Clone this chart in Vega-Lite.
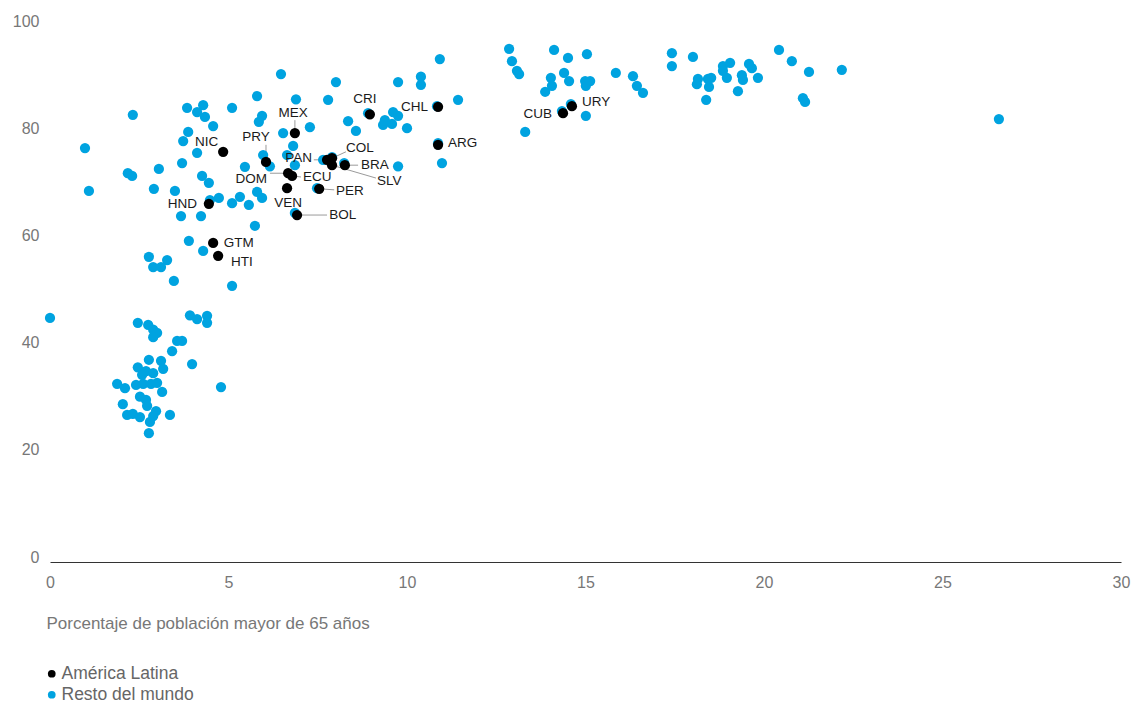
{
"$schema": "https://vega.github.io/schema/vega-lite/v6.json",
"width": 1071, "height": 536,
"autosize": {"type": "none"},
"padding": {"left": 50, "top": 21, "right": 11, "bottom": 146},
"config": {"view": {"stroke": null}, "font": "Liberation Sans"},
"datasets": {
"puntos": [
{"x":0.0,"y":44.6,"grupo":"Resto del mundo"},{"x":0.98,"y":76.3,"grupo":"Resto del mundo"},{"x":1.09,"y":68.3,"grupo":"Resto del mundo"},{"x":2.32,"y":82.5,"grupo":"Resto del mundo"},
{"x":6.47,"y":90.1,"grupo":"Resto del mundo"},{"x":5.80,"y":86.0,"grupo":"Resto del mundo"},{"x":6.89,"y":85.4,"grupo":"Resto del mundo"},{"x":3.84,"y":83.8,"grupo":"Resto del mundo"},
{"x":4.29,"y":84.3,"grupo":"Resto del mundo"},{"x":4.12,"y":83.0,"grupo":"Resto del mundo"},{"x":4.34,"y":82.1,"grupo":"Resto del mundo"},{"x":4.57,"y":80.4,"grupo":"Resto del mundo"},
{"x":5.10,"y":83.8,"grupo":"Resto del mundo"},{"x":5.94,"y":82.3,"grupo":"Resto del mundo"},{"x":5.85,"y":81.2,"grupo":"Resto del mundo"},{"x":6.53,"y":79.1,"grupo":"Resto del mundo"},
{"x":6.81,"y":76.7,"grupo":"Resto del mundo"},{"x":6.64,"y":75.0,"grupo":"Resto del mundo"},{"x":6.86,"y":73.1,"grupo":"Resto del mundo"},{"x":3.87,"y":79.3,"grupo":"Resto del mundo"},
{"x":3.73,"y":77.6,"grupo":"Resto del mundo"},{"x":4.12,"y":75.4,"grupo":"Resto del mundo"},{"x":3.70,"y":73.5,"grupo":"Resto del mundo"},{"x":3.05,"y":72.4,"grupo":"Resto del mundo"},
{"x":2.18,"y":71.6,"grupo":"Resto del mundo"},{"x":2.30,"y":71.1,"grupo":"Resto del mundo"},{"x":2.91,"y":68.7,"grupo":"Resto del mundo"},{"x":3.50,"y":68.3,"grupo":"Resto del mundo"},
{"x":4.26,"y":71.1,"grupo":"Resto del mundo"},{"x":4.45,"y":69.8,"grupo":"Resto del mundo"},{"x":5.46,"y":72.8,"grupo":"Resto del mundo"},{"x":5.97,"y":75.0,"grupo":"Resto del mundo"},
{"x":6.16,"y":72.9,"grupo":"Resto del mundo"},{"x":5.80,"y":68.1,"grupo":"Resto del mundo"},{"x":5.94,"y":67.0,"grupo":"Resto del mundo"},{"x":5.32,"y":67.2,"grupo":"Resto del mundo"},
{"x":4.73,"y":67.0,"grupo":"Resto del mundo"},{"x":4.48,"y":66.6,"grupo":"Resto del mundo"},{"x":5.10,"y":66.0,"grupo":"Resto del mundo"},{"x":5.57,"y":65.7,"grupo":"Resto del mundo"},
{"x":3.67,"y":63.6,"grupo":"Resto del mundo"},{"x":4.23,"y":63.6,"grupo":"Resto del mundo"},{"x":5.74,"y":61.8,"grupo":"Resto del mundo"},{"x":3.89,"y":59.0,"grupo":"Resto del mundo"},
{"x":4.29,"y":57.1,"grupo":"Resto del mundo"},{"x":2.77,"y":56.0,"grupo":"Resto del mundo"},{"x":3.28,"y":55.4,"grupo":"Resto del mundo"},{"x":2.89,"y":54.1,"grupo":"Resto del mundo"},
{"x":3.11,"y":54.1,"grupo":"Resto del mundo"},{"x":3.47,"y":51.5,"grupo":"Resto del mundo"},{"x":5.10,"y":50.6,"grupo":"Resto del mundo"},{"x":3.92,"y":45.1,"grupo":"Resto del mundo"},
{"x":4.12,"y":44.4,"grupo":"Resto del mundo"},{"x":4.40,"y":45.0,"grupo":"Resto del mundo"},{"x":4.40,"y":43.7,"grupo":"Resto del mundo"},{"x":2.46,"y":43.7,"grupo":"Resto del mundo"},
{"x":2.75,"y":43.3,"grupo":"Resto del mundo"},{"x":2.89,"y":42.4,"grupo":"Resto del mundo"},{"x":3.00,"y":41.8,"grupo":"Resto del mundo"},{"x":2.89,"y":41.0,"grupo":"Resto del mundo"},
{"x":3.56,"y":40.3,"grupo":"Resto del mundo"},{"x":3.70,"y":40.3,"grupo":"Resto del mundo"},{"x":3.42,"y":38.4,"grupo":"Resto del mundo"},{"x":2.77,"y":36.8,"grupo":"Resto del mundo"},
{"x":3.11,"y":36.6,"grupo":"Resto del mundo"},{"x":3.98,"y":36.0,"grupo":"Resto del mundo"},{"x":2.46,"y":35.4,"grupo":"Resto del mundo"},{"x":3.17,"y":35.1,"grupo":"Resto del mundo"},
{"x":2.58,"y":34.0,"grupo":"Resto del mundo"},{"x":2.69,"y":34.7,"grupo":"Resto del mundo"},{"x":2.89,"y":34.3,"grupo":"Resto del mundo"},{"x":1.88,"y":32.3,"grupo":"Resto del mundo"},
{"x":2.10,"y":31.5,"grupo":"Resto del mundo"},{"x":2.41,"y":32.1,"grupo":"Resto del mundo"},{"x":2.61,"y":32.3,"grupo":"Resto del mundo"},{"x":2.83,"y":32.3,"grupo":"Resto del mundo"},
{"x":3.00,"y":32.5,"grupo":"Resto del mundo"},{"x":3.14,"y":30.8,"grupo":"Resto del mundo"},{"x":2.52,"y":29.9,"grupo":"Resto del mundo"},{"x":2.69,"y":29.3,"grupo":"Resto del mundo"},
{"x":4.79,"y":31.7,"grupo":"Resto del mundo"},{"x":2.04,"y":28.5,"grupo":"Resto del mundo"},{"x":2.72,"y":28.2,"grupo":"Resto del mundo"},{"x":2.16,"y":26.5,"grupo":"Resto del mundo"},
{"x":2.32,"y":26.7,"grupo":"Resto del mundo"},{"x":2.52,"y":26.1,"grupo":"Resto del mundo"},{"x":2.97,"y":27.2,"grupo":"Resto del mundo"},{"x":2.89,"y":26.3,"grupo":"Resto del mundo"},
{"x":2.80,"y":25.2,"grupo":"Resto del mundo"},{"x":3.36,"y":26.5,"grupo":"Resto del mundo"},{"x":2.77,"y":23.1,"grupo":"Resto del mundo"},
{"x":8.01,"y":88.6,"grupo":"Resto del mundo"},{"x":7.79,"y":85.3,"grupo":"Resto del mundo"},{"x":7.28,"y":80.2,"grupo":"Resto del mundo"},{"x":8.35,"y":81.3,"grupo":"Resto del mundo"},
{"x":8.57,"y":79.5,"grupo":"Resto del mundo"},{"x":8.91,"y":82.8,"grupo":"Resto del mundo"},{"x":9.33,"y":80.6,"grupo":"Resto del mundo"},{"x":9.38,"y":81.5,"grupo":"Resto del mundo"},
{"x":9.61,"y":83.0,"grupo":"Resto del mundo"},{"x":9.75,"y":82.3,"grupo":"Resto del mundo"},{"x":9.58,"y":80.8,"grupo":"Resto del mundo"},{"x":10.0,"y":80.0,"grupo":"Resto del mundo"},
{"x":9.75,"y":88.6,"grupo":"Resto del mundo"},{"x":10.39,"y":89.6,"grupo":"Resto del mundo"},{"x":10.39,"y":88.1,"grupo":"Resto del mundo"},{"x":10.92,"y":92.9,"grupo":"Resto del mundo"},
{"x":11.43,"y":85.3,"grupo":"Resto del mundo"},{"x":10.84,"y":84.1,"grupo":"Resto del mundo"},{"x":10.87,"y":77.2,"grupo":"Resto del mundo"},{"x":10.98,"y":73.5,"grupo":"Resto del mundo"},
{"x":9.75,"y":72.9,"grupo":"Resto del mundo"},{"x":7.65,"y":74.1,"grupo":"Resto del mundo"},{"x":7.90,"y":74.6,"grupo":"Resto del mundo"},{"x":8.24,"y":73.5,"grupo":"Resto del mundo"},
{"x":7.48,"y":68.8,"grupo":"Resto del mundo"},{"x":6.86,"y":64.2,"grupo":"Resto del mundo"},
{"x":12.86,"y":94.8,"grupo":"Resto del mundo"},{"x":12.94,"y":92.5,"grupo":"Resto del mundo"},{"x":13.08,"y":90.7,"grupo":"Resto del mundo"},{"x":13.14,"y":90.1,"grupo":"Resto del mundo"},
{"x":14.12,"y":94.6,"grupo":"Resto del mundo"},{"x":14.51,"y":93.1,"grupo":"Resto del mundo"},{"x":15.04,"y":93.8,"grupo":"Resto del mundo"},{"x":14.03,"y":89.4,"grupo":"Resto del mundo"},
{"x":14.06,"y":87.9,"grupo":"Resto del mundo"},{"x":13.87,"y":86.8,"grupo":"Resto del mundo"},{"x":14.40,"y":90.3,"grupo":"Resto del mundo"},{"x":14.54,"y":88.8,"grupo":"Resto del mundo"},
{"x":14.99,"y":88.8,"grupo":"Resto del mundo"},{"x":15.13,"y":88.8,"grupo":"Resto del mundo"},{"x":15.01,"y":87.9,"grupo":"Resto del mundo"},{"x":15.85,"y":90.3,"grupo":"Resto del mundo"},
{"x":16.33,"y":89.7,"grupo":"Resto del mundo"},{"x":16.44,"y":87.9,"grupo":"Resto del mundo"},{"x":16.61,"y":86.6,"grupo":"Resto del mundo"},{"x":17.42,"y":94.0,"grupo":"Resto del mundo"},
{"x":17.42,"y":91.6,"grupo":"Resto del mundo"},{"x":18.01,"y":93.3,"grupo":"Resto del mundo"},{"x":18.15,"y":89.2,"grupo":"Resto del mundo"},{"x":18.12,"y":88.2,"grupo":"Resto del mundo"},
{"x":18.43,"y":89.2,"grupo":"Resto del mundo"},{"x":18.52,"y":89.4,"grupo":"Resto del mundo"},{"x":18.46,"y":87.7,"grupo":"Resto del mundo"},{"x":18.38,"y":85.3,"grupo":"Resto del mundo"},
{"x":18.85,"y":91.6,"grupo":"Resto del mundo"},{"x":19.05,"y":92.2,"grupo":"Resto del mundo"},{"x":18.85,"y":90.7,"grupo":"Resto del mundo"},{"x":18.96,"y":89.4,"grupo":"Resto del mundo"},
{"x":19.27,"y":86.9,"grupo":"Resto del mundo"},{"x":19.38,"y":89.9,"grupo":"Resto del mundo"},{"x":19.41,"y":89.0,"grupo":"Resto del mundo"},{"x":19.58,"y":92.0,"grupo":"Resto del mundo"},
{"x":19.66,"y":91.2,"grupo":"Resto del mundo"},{"x":19.83,"y":89.4,"grupo":"Resto del mundo"},{"x":20.42,"y":94.6,"grupo":"Resto del mundo"},{"x":20.78,"y":92.5,"grupo":"Resto del mundo"},
{"x":21.26,"y":90.5,"grupo":"Resto del mundo"},{"x":21.09,"y":85.6,"grupo":"Resto del mundo"},{"x":21.15,"y":84.9,"grupo":"Resto del mundo"},{"x":22.18,"y":90.9,"grupo":"Resto del mundo"},
{"x":26.58,"y":81.7,"grupo":"Resto del mundo"},{"x":14.34,"y":83.2,"grupo":"Resto del mundo"},{"x":14.59,"y":84.5,"grupo":"Resto del mundo"},{"x":15.01,"y":82.3,"grupo":"Resto del mundo"},
{"x":13.31,"y":79.3,"grupo":"Resto del mundo"},
{"x":4.85,"y":75.6,"grupo":"América Latina"},{"x":6.05,"y":73.7,"grupo":"América Latina"},{"x":6.86,"y":79.1,"grupo":"América Latina"},{"x":8.96,"y":82.6,"grupo":"América Latina"},
{"x":10.87,"y":84.0,"grupo":"América Latina"},{"x":10.87,"y":76.9,"grupo":"América Latina"},{"x":14.37,"y":82.8,"grupo":"América Latina"},{"x":14.62,"y":84.1,"grupo":"América Latina"},
{"x":7.76,"y":74.1,"grupo":"América Latina"},{"x":7.90,"y":74.4,"grupo":"América Latina"},{"x":7.90,"y":73.1,"grupo":"América Latina"},{"x":8.26,"y":73.1,"grupo":"América Latina"},
{"x":6.67,"y":71.6,"grupo":"América Latina"},{"x":6.78,"y":71.1,"grupo":"América Latina"},{"x":6.64,"y":68.8,"grupo":"América Latina"},{"x":7.54,"y":68.7,"grupo":"América Latina"},
{"x":6.92,"y":63.8,"grupo":"América Latina"},{"x":4.45,"y":65.9,"grupo":"América Latina"},{"x":4.57,"y":58.6,"grupo":"América Latina"},{"x":4.71,"y":56.2,"grupo":"América Latina"}
],
"etiquetas": [
{"pais":"NIC","lx":4.71,"ly":77.4},{"pais":"CHL","lx":10.59,"ly":84.0},{"pais":"CUB","lx":14.06,"ly":82.6},{"pais":"HND","lx":4.12,"ly":65.9},
{"pais":"PAN","lx":7.34,"ly":74.4},{"pais":"DOM","lx":6.08,"ly":70.5},
{"pais":"ARG","lx":11.15,"ly":77.2},{"pais":"URY","lx":14.90,"ly":84.9},{"pais":"GTM","lx":4.87,"ly":58.6},{"pais":"HTI","lx":5.07,"ly":55.0},
{"pais":"COL","lx":8.29,"ly":76.3},{"pais":"BRA","lx":8.71,"ly":73.1},{"pais":"SLV","lx":9.16,"ly":70.1},{"pais":"ECU","lx":7.09,"ly":70.9},
{"pais":"PER","lx":8.01,"ly":68.3},{"pais":"BOL","lx":7.82,"ly":63.8},
{"pais":"PRY","lx":5.77,"ly":78.4},{"pais":"MEX","lx":6.81,"ly":82.8},{"pais":"CRI","lx":8.82,"ly":85.4},{"pais":"VEN","lx":6.67,"ly":66.0}
],
"guias": [
{"pais":"PRY","x1":6.05,"y1":76.9,"x2":6.05,"y2":73.7},
{"pais":"MEX","x1":6.86,"y1":81.5,"x2":6.86,"y2":79.1},
{"pais":"COL","x1":8.29,"y1":75.6,"x2":7.90,"y2":74.4},
{"pais":"PAN","x1":7.39,"y1":74.1,"x2":7.76,"y2":74.1},
{"pais":"BRA","x1":8.26,"y1":73.1,"x2":8.63,"y2":73.1},
{"pais":"SLV","x1":7.90,"y1":73.1,"x2":9.13,"y2":70.7},
{"pais":"DOM","x1":6.16,"y1":71.6,"x2":6.67,"y2":71.6},
{"pais":"ECU","x1":6.78,"y1":71.1,"x2":7.03,"y2":70.9},
{"pais":"PER","x1":7.54,"y1":68.7,"x2":7.96,"y2":68.5},
{"pais":"BOL","x1":6.92,"y1":63.8,"x2":7.76,"y2":63.8}
]
},
"layer": [
{
"data": {"name": "guias"},
"mark": {"type": "rule", "color": "#9a9a9a", "strokeWidth": 1},
"encoding": {
"x": {"field": "x1", "type": "quantitative", "scale": {"domain": [0, 30]}},
"y": {"field": "y1", "type": "quantitative", "scale": {"domain": [0, 100]}},
"x2": {"field": "x2"}, "y2": {"field": "y2"}
}
},
{
"data": {"name": "puntos"},
"mark": {"type": "circle", "size": 105, "opacity": 1},
"encoding": {
"x": {"field": "x", "type": "quantitative", "scale": {"domain": [0, 30], "nice": false},
"axis": {"title": "Porcentaje de población mayor de 65 años", "values": [0,5,10,15,20,25,30], "grid": false, "ticks": false, "domainColor": "#333", "domainWidth": 1, "offset": 5,
"labelFlush": false, "labelOverlap": false,
"labelFontSize": 16, "labelColor": "#777", "labelPadding": 12, "labelFont": "Liberation Sans",
"titleFontSize": 17, "titleFontWeight": "normal", "titleColor": "#777", "titleFont": "Liberation Sans",
"titleAnchor": "start", "titleAlign": "left", "titleX": -4, "titleY": 61, "titleBaseline": "middle"}},
"y": {"field": "y", "type": "quantitative", "scale": {"domain": [0, 100], "nice": false},
"axis": {"title": null, "values": [0,20,40,60,80,100], "grid": false, "ticks": false, "domain": false,
"labelFontSize": 16, "labelColor": "#777", "labelPadding": 11, "labelFont": "Liberation Sans"}},
"color": {"field": "grupo", "type": "nominal",
"scale": {"domain": ["América Latina", "Resto del mundo"], "range": ["#000000", "#00a3e0"]},
"legend": {"title": null, "orient": "none", "legendX": -7, "legendY": 644, "symbolType": "circle", "symbolSize": 60,
"labelFontSize": 17.5, "labelColor": "#666", "labelFont": "Liberation Sans", "rowPadding": 2, "labelOffset": 1}}
}
},
{
"data": {"name": "etiquetas"},
"transform": [{"filter": {"field": "pais", "oneOf": ["NIC","CHL","CUB","HND","PAN","DOM"]}}],
"mark": {"type": "text", "align": "right", "baseline": "middle", "fontSize": 13.5, "color": "#1a1a1a", "font": "Liberation Sans"},
"encoding": {"x": {"field": "lx", "type": "quantitative"}, "y": {"field": "ly", "type": "quantitative"}, "text": {"field": "pais"}}
},
{
"data": {"name": "etiquetas"},
"transform": [{"filter": {"field": "pais", "oneOf": ["ARG","URY","GTM","HTI","COL","BRA","SLV","ECU","PER","BOL"]}}],
"mark": {"type": "text", "align": "left", "baseline": "middle", "fontSize": 13.5, "color": "#1a1a1a", "font": "Liberation Sans"},
"encoding": {"x": {"field": "lx", "type": "quantitative"}, "y": {"field": "ly", "type": "quantitative"}, "text": {"field": "pais"}}
},
{
"data": {"name": "etiquetas"},
"transform": [{"filter": {"field": "pais", "oneOf": ["PRY","MEX","CRI","VEN"]}}],
"mark": {"type": "text", "align": "center", "baseline": "middle", "fontSize": 13.5, "color": "#1a1a1a", "font": "Liberation Sans"},
"encoding": {"x": {"field": "lx", "type": "quantitative"}, "y": {"field": "ly", "type": "quantitative"}, "text": {"field": "pais"}}
}
]
}
